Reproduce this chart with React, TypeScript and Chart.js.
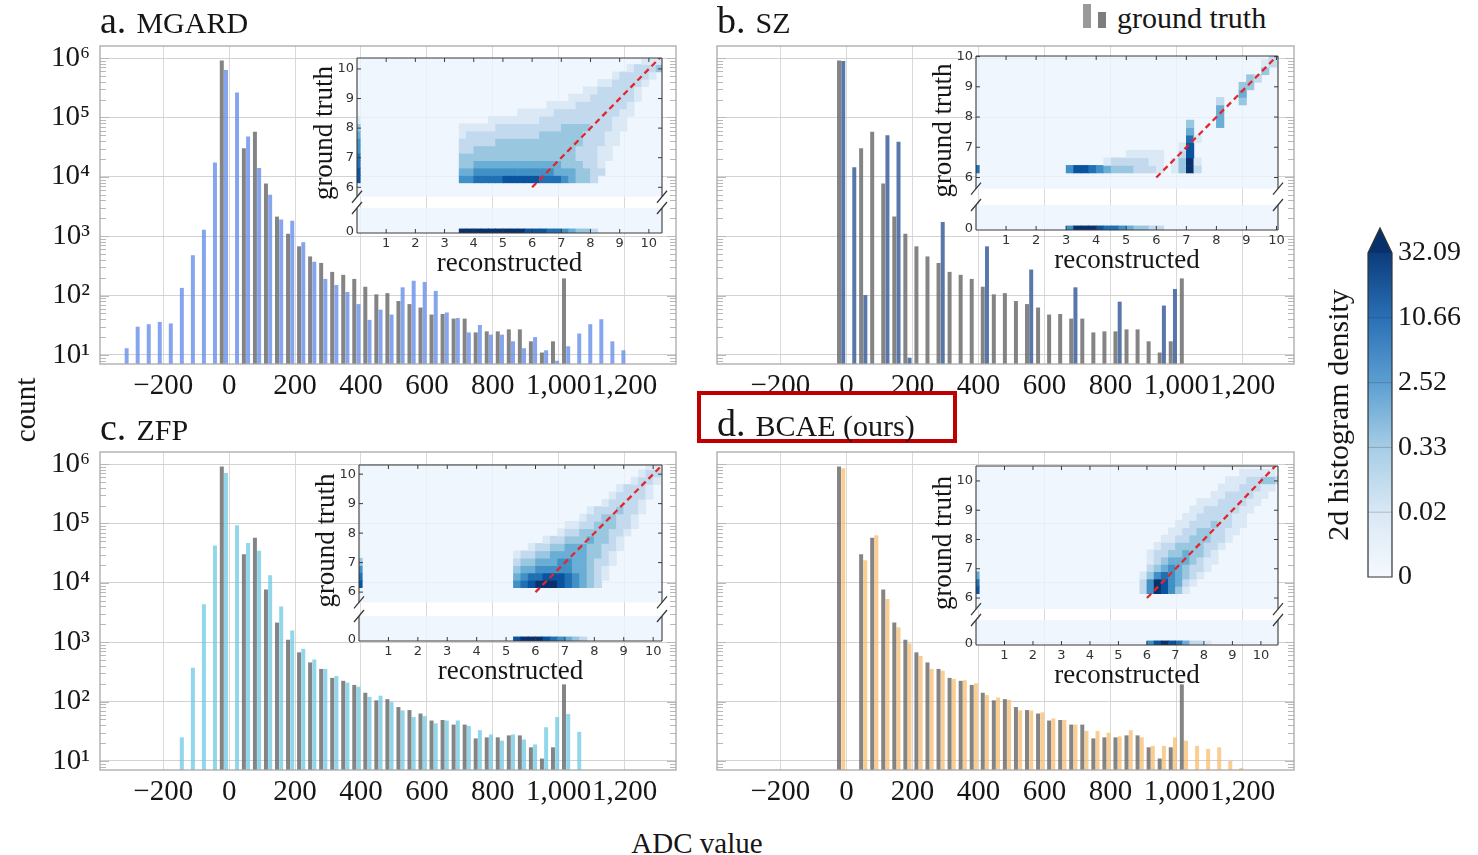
import React, { useEffect, useRef } from 'react';
import { Chart, registerables } from 'chart.js';

Chart.register(...registerables);

const SERIF = '"Liberation Serif", "DejaVu Serif", serif';
const SANS = '"DejaVu Sans", "Liberation Sans", sans-serif';
const INK = '#161616';

// ---------------- main histograms: counts per ADC bin ----------------
const BIN_CENTERS = [
  -317.5, -284, -250.5, -217, -183.5, -150, -116.5, -83, -49.5,
  -16, 17.5, 51, 84.5, 118, 151.5, 185, 218.5, 252, 285.5,
  319, 352.5, 386, 419.5, 453, 486.5, 520, 553.5, 587, 620.5,
  654, 687.5, 721, 754.5, 788, 821.5, 855, 888.5, 922, 955.5,
  989, 1022.5, 1056, 1089.5, 1123, 1156.5, 1190,
];

const GROUND_TRUTH = [
  null, null, null, null, null, null, null, null, null,
  912000, null, 30200, 57500, 7760, 2140, 1100, 676, 457, 355,
  251, 224, 191, 141, 105, 110, 81, 72, 63, 48,
  49, 41, 41, 24, 25, 25, 27, 27, 17, 11,
  17, 195, null, null, null, null, null,
];

const MGARD = [
  13, 30, 33, 36, 34, 135, 479, 1290, 17400,
  631000, 263000, 47900, 14100, 5010, 1910, 1820, 794, 372, 191,
  151, 115, 72, 39, 58, 48, 138, 178, 170, 120,
  52, 42, 24, 32, 22, 22, 17, 13, 20, 12,
  8, 14, 23, 33, 40, 17, 12,
];

const SZ = [
  null, null, null, null, null, null, null, null, null,
  891000, 14500, 102, null, 50100, 38900, 9, null, null, 1740,
  null, null, null, 676, null, null, null, 275, null, null,
  null, 138, null, null, null, 79, null, null, null, 68,
  129, null, null, null, null, null, null,
];

const ZFP = [
  null, null, null, null, null, 25, 372, 4370, 42700,
  708000, 93300, 46800, 34700, 13500, 3980, 1580, 776, 513, 355,
  269, 209, 178, 120, 126, 98, 71, 55, 57, 43,
  48, 48, 39, 33, 28, 22, 28, 23, 19, 37,
  55, 62, 31, null, null, null, null,
];

const BCAE = [
  null, null, null, null, null, null, null, null, null,
  851000, null, 24000, 63100, 5370, 1780, 955, 589, 355, 331,
  240, 229, 204, 129, 117, 107, 71, 71, 66, 52,
  49, 41, 32, 32, 30, 26, 33, 25, 18, 18,
  25, 22, 18, 16, 17, 10, 7.6,
];

const X_TICKS = [-200, 0, 200, 400, 600, 800, 1000, 1200];
const Y_TICKS = [10, 100, 1000, 10000, 100000, 1000000];
const Y_TICK_LABELS = ['10\u00b9', '10\u00b2', '10\u00b3', '10\u2074', '10\u2075', '10\u2076'];

// ---------------- insets: 2d histogram (reconstructed vs ground truth) ----------------
// bins: columns of width 0.25 starting at 0; upper rows of height 0.25 starting at 6.15
const CELL_W = 0.25;
const ROW_BASE = 6.15;
const ROW_H = 0.25;
const LOWER_BAND = [-0.05, 0.09];
const ZERO_X = 0.06;
const INSET_X_TICKS = [1, 2, 3, 4, 5, 6, 7, 8, 9, 10];
const INSET_UPPER_TICKS = [6, 7, 8, 9, 10];
const INSET_LOWER_TICKS = [0];
const DIAGONAL = [6, 10.6];

// [row, first column, density levels 1..8]
const MGARD_CELLS: [number, number, string][] = [
  [0, 14, '5566667777766654332'],
  [1, 14, '44555555555554443322'],
  [2, 14, '33444444444444333221'],
  [3, 14, '333333333333333322211'],
  [4, 14, '223333333333333322211'],
  [5, 14, '2222233333333333322211'],
  [6, 14, '1222222222233333322211'],
  [7, 14, '11111222222222333322211'],
  [8, 18, '1111111222222222211'],
  [9, 22, '1111122222222211'],
  [10, 26, '111122222221'],
  [11, 29, '1112222221'],
  [12, 31, '11222221'],
  [13, 33, '1122221'],
  [14, 35, '122221'],
  [15, 37, '12223'],
  [16, 39, '111'],
];
const MGARD_LOWER: [number, string] = [14, '8888888887776654332'];
const MGARD_ZERO = '776655431';

const SZ_CELLS: [number, number, string][] = [
  [0, 12, '5776543332221'], [0, 26, '1382'],
  [1, 17, '12222211'], [1, 26, '1381'],
  [2, 20, '11111'], [2, 27, '27'],
  [3, 27, '17'],
  [4, 28, '61'],
  [5, 28, '4'],
  [6, 28, '3'], [6, 32, '4'],
  [7, 32, '4'],
  [8, 32, '4'],
  [9, 32, '2'], [9, 35, '3'],
  [10, 35, '4'],
  [11, 35, '33'],
  [12, 36, '32'],
  [13, 38, '3'],
  [14, 38, '12'],
  [15, 39, '2'],
];
const SZ_LOWER: [number, string] = [12, '5888766543322'];
const SZ_ZERO = '6';

const ZFP_CELLS: [number, number, string][] = [
  [0, 21, '567888765432'],
  [1, 21, '4566777654321'],
  [2, 21, '3445555544321'],
  [3, 21, '23344455443221'],
  [4, 21, '12233444443321'],
  [5, 23, '1223344433221'],
  [6, 25, '12233343321'],
  [7, 27, '1223333221'],
  [8, 28, '1122333221'],
  [9, 30, '12233221'],
  [10, 31, '12223221'],
  [11, 33, '122221'],
  [12, 34, '122221'],
  [13, 35, '12221'],
  [14, 37, '1221'],
  [15, 38, '122'],
  [16, 39, '11'],
];
const ZFP_LOWER: [number, string] = [21, '7888765432'];
const ZFP_ZERO = '7653';

const BCAE_CELLS: [number, number, string][] = [
  [0, 23, '2587531'],
  [1, 23, '25875421'],
  [2, 23, '135654321'],
  [3, 24, '234543221'],
  [4, 24, '1234443211'],
  [5, 24, '1223343321'],
  [6, 25, '1223333221'],
  [7, 26, '1122333221'],
  [8, 27, '1122332211'],
  [9, 28, '1122232211'],
  [10, 29, '112222211'],
  [11, 30, '112222211'],
  [12, 31, '111222211'],
  [13, 33, '11222211'],
  [14, 34, '11122211'],
  [15, 35, '11122332'],
  [16, 37, '11111'],
];
const BCAE_LOWER: [number, string] = [24, '578764221'];
const BCAE_ZERO = '764';

// ---------------- colorbar ----------------
const CB_TICKS = [0, 1, 2, 3, 4, 5];
const CB_LABELS = ['0', '0.02', '0.33', '2.52', '10.66', '32.09'];

// ---------------- styles ----------------
const GT_COLOR = 'rgba(110,110,110,0.85)';
const LEVEL_COLORS = ['rgba(0,0,0,0)', '#dbe9f6', '#c2d9ee', '#9ac7e0', '#6aaed6', '#4191c6', '#2070b4', '#0a539e', '#08326e'];
const CB_STOPS: [number, string][] = [[0, '#f5f9fe'], [0.2, '#d9e8f5'], [0.4, '#a6cde5'], [0.6, '#5b9fd1'], [0.8, '#2a70b6'], [1, '#0b3c7c']];
const INSET_BG = 'rgba(236,244,252,0.82)';
const MAIN_H = 370;
const LOWER_PX = 25;

const MAIN_PANELS = [
  { id: 'a', label: 'MGARD', values: MGARD, color: 'rgba(100,140,235,0.78)', left: 40, top: 40, width: 645, showY: true },
  { id: 'b', label: 'SZ', values: SZ, color: 'rgba(60,95,155,0.85)', left: 657, top: 40, width: 646, showY: false },
  { id: 'c', label: 'ZFP', values: ZFP, color: 'rgba(110,200,228,0.75)', left: 40, top: 446, width: 645, showY: true },
  { id: 'd', label: 'BCAE (ours)', values: BCAE, color: 'rgba(248,185,100,0.7)', left: 657, top: 446, width: 646, showY: false },
];

const INSETS = [
  { id: 'a', L: 357, T: 58, R: 662, B: 233, xMax: 10.45, yuMin: 5.3, yuMax: 10.37, gapAt: 5.68, cells: MGARD_CELLS, lower: MGARD_LOWER, zero: MGARD_ZERO },
  { id: 'b', L: 976, T: 56, R: 1278, B: 230, xMax: 10.05, yuMin: 5.09, yuMax: 10.02, gapAt: 5.63, cells: SZ_CELLS, lower: SZ_LOWER, zero: SZ_ZERO },
  { id: 'c', L: 359, T: 465, R: 662, B: 641, xMax: 10.3, yuMin: 5.19, yuMax: 10.31, gapAt: 5.65, cells: ZFP_CELLS, lower: ZFP_LOWER, zero: ZFP_ZERO },
  { id: 'd', L: 976, T: 466, R: 1278, B: 645, xMax: 10.6, yuMin: 5.25, yuMax: 10.51, gapAt: 5.62, cells: BCAE_CELLS, lower: BCAE_LOWER, zero: BCAE_ZERO },
];

function fmtX(v: number) {
  const s = Math.abs(v).toLocaleString('en-US');
  return v < 0 ? '\u2212' + s : s;
}

function noPad(s: any) {
  s.paddingTop = 0;
  s.paddingBottom = 0;
  s.paddingLeft = 0;
  s.paddingRight = 0;
}

const mainDecor = {
  id: 'mainDecor',
  afterDraw(chart: any) {
    const { ctx, chartArea: ca, scales } = chart;
    const y = scales.y;
    ctx.save();
    ctx.strokeStyle = '#b8b8b8';
    ctx.lineWidth = 1;
    for (let e = 0; e <= 6; e++) {
      for (let m = 1; m <= 9; m++) {
        const v = m * Math.pow(10, e);
        if (v < y.min || v > y.max) continue;
        const py = Math.round(y.getPixelForValue(v)) + 0.5;
        const len = m === 1 ? 9 : 6;
        ctx.beginPath();
        ctx.moveTo(ca.left, py); ctx.lineTo(ca.left + len, py);
        ctx.moveTo(ca.right, py); ctx.lineTo(ca.right - len, py);
        ctx.stroke();
      }
    }
    ctx.strokeStyle = '#a9a9a9';
    ctx.lineWidth = 1.3;
    ctx.strokeRect(ca.left, ca.top, ca.right - ca.left, ca.bottom - ca.top);
    ctx.restore();
  },
};

function makeMainConfig(p: any) {
  const gt = BIN_CENTERS.map((x, i) => ({ x, y: GROUND_TRUTH[i] }));
  const cmp = BIN_CENTERS.map((x, i) => ({ x, y: p.values[i] }));
  const bar = { barPercentage: 0.95, categoryPercentage: 0.76, borderWidth: 0 };
  return {
    type: 'bar',
    data: {
      datasets: [
        { label: 'ground truth', data: gt, backgroundColor: GT_COLOR, ...bar },
        { label: p.label, data: cmp, backgroundColor: p.color, ...bar },
      ],
    },
    options: {
      animation: false,
      responsive: false,
      devicePixelRatio: 1,
      events: [],
      layout: { padding: { top: 6, right: 9, left: 0, bottom: 0 } },
      plugins: { legend: { display: false }, tooltip: { enabled: false } },
      scales: {
        x: {
          type: 'linear', min: -392, max: 1356, offset: false,
          afterBuildTicks: (s: any) => { s.ticks = X_TICKS.map((v) => ({ value: v })); },
          ticks: { autoSkip: false, maxRotation: 0, minRotation: 0, padding: 5, color: INK, font: { family: SERIF, size: 29 }, callback: (v: any) => fmtX(Number(v)) },
          grid: { color: '#d9d9d9', drawTicks: false, offset: false },
          border: { display: false },
          afterFit: (s: any) => { s.height = 46; noPad(s); },
        },
        y: {
          type: 'logarithmic', min: 7.05, max: 1.6e6, beginAtZero: false,
          afterBuildTicks: (s: any) => { s.ticks = Y_TICKS.map((v) => ({ value: v })); },
          ticks: { display: p.showY, padding: 10, color: INK, font: { family: SERIF, size: 29 }, callback: (v: any) => { const i = Y_TICKS.indexOf(Number(v)); return i >= 0 ? Y_TICK_LABELS[i] : ''; } },
          grid: { color: '#d2d2d2', drawTicks: false },
          border: { display: false },
          afterFit: (s: any) => { s.width = 60; noPad(s); },
        },
      },
    },
    plugins: [mainDecor],
  };
}

const insetDecor = {
  id: 'insetDecor',
  beforeDatasetsDraw(chart: any, _a: any, opts: any) {
    const { ctx, chartArea: ca, scales } = chart;
    const gapY = scales.yu.getPixelForValue(opts.gapAt);
    ctx.save();
    ctx.fillStyle = INSET_BG;
    ctx.fillRect(ca.left, ca.top, ca.right - ca.left, gapY - ca.top);
    ctx.fillRect(ca.left, scales.yl.top, ca.right - ca.left, scales.yl.bottom - scales.yl.top);
    ctx.restore();
  },
  afterDraw(chart: any, _a: any, opts: any) {
    const { ctx, chartArea: ca, scales } = chart;
    const gapY = scales.yu.getPixelForValue(opts.gapAt);
    const lowTop = scales.yl.top;
    ctx.save();
    ctx.strokeStyle = '#3a3a3a';
    ctx.lineWidth = 1.1;
    ctx.beginPath();
    ctx.moveTo(ca.left, ca.top); ctx.lineTo(ca.right, ca.top);
    ctx.moveTo(ca.left, ca.bottom); ctx.lineTo(ca.right, ca.bottom);
    ctx.moveTo(ca.left, ca.top); ctx.lineTo(ca.left, gapY);
    ctx.moveTo(ca.right, ca.top); ctx.lineTo(ca.right, gapY);
    ctx.moveTo(ca.left, lowTop); ctx.lineTo(ca.left, ca.bottom);
    ctx.moveTo(ca.right, lowTop); ctx.lineTo(ca.right, ca.bottom);
    ctx.stroke();
    // break marks
    ctx.lineWidth = 1.3;
    ctx.beginPath();
    for (const x of [ca.left, ca.right]) {
      for (const y of [gapY, lowTop]) {
        ctx.moveTo(x - 5, y + 6); ctx.lineTo(x + 5, y - 6);
      }
    }
    ctx.stroke();
    // inner ticks
    ctx.lineWidth = 1;
    ctx.beginPath();
    for (const v of INSET_X_TICKS) {
      if (v > scales.x.max) continue;
      const px = scales.x.getPixelForValue(v);
      ctx.moveTo(px, ca.bottom); ctx.lineTo(px, ca.bottom - 4);
      ctx.moveTo(px, ca.top); ctx.lineTo(px, ca.top + 4);
    }
    for (const v of INSET_UPPER_TICKS) {
      const py = scales.yu.getPixelForValue(v);
      ctx.moveTo(ca.left, py); ctx.lineTo(ca.left + 4, py);
      ctx.moveTo(ca.right, py); ctx.lineTo(ca.right - 4, py);
    }
    ctx.stroke();
    ctx.restore();
  },
};

function makeInsetConfig(s: any) {
  const levelColor = (c: any) => LEVEL_COLORS[(c.raw && c.raw.v) || 0];
  const upper = s.cells.flatMap(([r, c0, lv]: [number, number, string]) =>
    lv.split('').map((ch, i) => ({ x: (c0 + i + 0.5) * CELL_W, y: [ROW_BASE + r * ROW_H, ROW_BASE + (r + 1) * ROW_H], v: Number(ch) })),
  ).filter((d: any) => d.v > 0);
  const lower = s.lower[1].split('').map((ch: string, i: number) => ({ x: (s.lower[0] + i + 0.5) * CELL_W, y: LOWER_BAND, v: Number(ch) })).filter((d: any) => d.v > 0);
  const zero = s.zero.split('').map((ch: string, r: number) => ({ x: ZERO_X, y: [ROW_BASE + r * ROW_H, ROW_BASE + (r + 1) * ROW_H], v: Number(ch) })).filter((d: any) => d.v > 0);
  const upperWeight = (s.B - s.T) - LOWER_PX;
  const yTicks = { padding: 3, color: '#333', font: { family: SANS, size: 13 } };
  return {
    type: 'bar',
    data: {
      datasets: [
        { type: 'line', data: DIAGONAL.map((v) => ({ x: v, y: v })), xAxisID: 'x', yAxisID: 'yu', borderColor: '#e2262b', borderWidth: 2.3, borderDash: [6, 4], pointRadius: 0, fill: false, order: 0 },
        { data: zero, xAxisID: 'x0', yAxisID: 'yu', backgroundColor: levelColor, barThickness: 3, grouped: false, borderWidth: 0, order: 1 },
        { data: upper, xAxisID: 'x', yAxisID: 'yu', backgroundColor: levelColor, barPercentage: 1, categoryPercentage: 1, grouped: false, borderWidth: 0, order: 2 },
        { data: lower, xAxisID: 'x', yAxisID: 'yl', backgroundColor: levelColor, barPercentage: 1, categoryPercentage: 1, grouped: false, borderWidth: 0, order: 2 },
      ],
    },
    options: {
      animation: false,
      responsive: false,
      devicePixelRatio: 1,
      events: [],
      layout: { padding: { top: 8, right: 10, left: 0, bottom: 0 } },
      plugins: { legend: { display: false }, tooltip: { enabled: false }, insetDecor: { gapAt: s.gapAt } },
      scales: {
        x: {
          type: 'linear', position: 'bottom', min: 0, max: s.xMax, offset: false,
          afterBuildTicks: (sc: any) => { sc.ticks = INSET_X_TICKS.filter((v) => v <= s.xMax).map((v) => ({ value: v })); },
          ticks: { autoSkip: false, maxRotation: 0, padding: 3, color: '#333', font: { family: SANS, size: 13 } },
          grid: { display: false, offset: false, drawTicks: false },
          border: { display: false },
          title: { display: true, text: 'reconstructed', color: INK, font: { family: SERIF, size: 27 }, padding: { top: 0, bottom: 2 } },
          afterFit: (sc: any) => { sc.height = 49; noPad(sc); },
        },
        x0: { type: 'linear', display: false, min: 0, max: s.xMax, offset: false, grid: { offset: false } },
        yu: {
          type: 'linear', position: 'left', stack: 'inset', stackWeight: upperWeight, weight: 2,
          min: s.yuMin, max: s.yuMax,
          afterBuildTicks: (sc: any) => { sc.ticks = INSET_UPPER_TICKS.map((v) => ({ value: v })); },
          ticks: yTicks,
          grid: { display: false, drawTicks: false },
          border: { display: false },
          title: { display: true, text: 'ground truth', color: INK, font: { family: SERIF, size: 27 }, padding: { top: 2, bottom: 0 } },
          afterFit: (sc: any) => { sc.width = 50; noPad(sc); },
        },
        yl: {
          type: 'linear', position: 'left', stack: 'inset', stackWeight: LOWER_PX, weight: 1,
          min: -0.05, max: 0.8,
          afterBuildTicks: (sc: any) => { sc.ticks = INSET_LOWER_TICKS.map((v) => ({ value: v })); },
          ticks: yTicks,
          grid: { display: false, drawTicks: false },
          border: { display: false },
          afterFit: (sc: any) => { sc.width = 50; noPad(sc); },
        },
      },
    },
    plugins: [insetDecor],
  };
}

const cbDecor = {
  id: 'cbDecor',
  afterDatasetsDraw(chart: any) {
    const { ctx, chartArea: ca, scales } = chart;
    const y = scales.y;
    const topY = y.getPixelForValue(CB_TICKS[CB_TICKS.length - 1]);
    const botY = y.getPixelForValue(CB_TICKS[0]);
    const mid = (ca.left + ca.right) / 2;
    const tip = topY - 25;
    ctx.save();
    ctx.fillStyle = '#08306b';
    ctx.beginPath();
    ctx.moveTo(ca.left, topY); ctx.lineTo(mid, tip); ctx.lineTo(ca.right, topY); ctx.closePath();
    ctx.fill();
    ctx.strokeStyle = 'rgba(30,30,30,0.22)';
    ctx.lineWidth = 1;
    ctx.beginPath();
    for (const v of CB_TICKS.slice(1, -1)) {
      const py = y.getPixelForValue(v);
      ctx.moveTo(ca.left, py); ctx.lineTo(ca.right, py);
    }
    ctx.stroke();
    ctx.strokeStyle = '#333';
    ctx.lineWidth = 1.2;
    ctx.beginPath();
    ctx.moveTo(ca.left, botY); ctx.lineTo(ca.left, topY); ctx.lineTo(mid, tip); ctx.lineTo(ca.right, topY); ctx.lineTo(ca.right, botY); ctx.closePath();
    ctx.stroke();
    ctx.restore();
  },
};

function makeColorbarConfig() {
  return {
    type: 'bar',
    data: {
      labels: [''],
      datasets: [{
        data: [[CB_TICKS[0], CB_TICKS[CB_TICKS.length - 1]]],
        backgroundColor: (c: any) => {
          const ca = c.chart.chartArea;
          if (!ca) return '#6aaed6';
          const g = c.chart.ctx.createLinearGradient(0, ca.bottom, 0, ca.top);
          CB_STOPS.forEach(([p, col]) => g.addColorStop(p, col));
          return g;
        },
        barPercentage: 1, categoryPercentage: 1, borderWidth: 0,
      }],
    },
    options: {
      animation: false,
      responsive: false,
      devicePixelRatio: 1,
      events: [],
      layout: { padding: { left: 18, top: 38, bottom: 18, right: 0 } },
      plugins: { legend: { display: false }, tooltip: { enabled: false } },
      scales: {
        x: { display: false },
        y: {
          position: 'right', min: 0, max: 5,
          afterBuildTicks: (s: any) => { s.ticks = CB_TICKS.map((v) => ({ value: v })); },
          ticks: { padding: 6, color: INK, font: { family: SERIF, size: 28 }, callback: (v: any) => { const i = CB_TICKS.indexOf(Number(v)); return i >= 0 ? CB_LABELS[i] : ''; } },
          grid: { display: false, drawTicks: false },
          border: { display: false },
          afterFit: (s: any) => { s.width = 86; noPad(s); },
        },
        yt: {
          position: 'left', min: 0, max: 5,
          ticks: { display: false },
          grid: { display: false, drawTicks: false },
          border: { display: false },
          title: { display: true, text: '2d histogram density', color: INK, font: { family: SERIF, size: 30 } },
          afterFit: (s: any) => { s.width = 50; noPad(s); },
        },
      },
    },
    plugins: [cbDecor],
  };
}

function ChartCanvas({ left, top, width, height, make }: any) {
  const ref = useRef<HTMLCanvasElement | null>(null);
  useEffect(() => {
    if (!ref.current) return;
    const chart = new Chart(ref.current, make());
    return () => chart.destroy();
  }, []);
  return <canvas ref={ref} width={width} height={height} style={{ position: 'absolute', left, top, width, height }} />;
}

function PanelTitle({ left, top, letter, name }: any) {
  return (
    <div style={{ position: 'absolute', left, top, fontFamily: SERIF, color: INK, whiteSpace: 'nowrap', lineHeight: '40px' }}>
      <span style={{ fontSize: 38 }}>{letter}</span>
      <span style={{ fontSize: 30, marginLeft: 10 }}>{name}</span>
    </div>
  );
}

export default function App() {
  return (
    <div style={{ position: 'fixed', left: 0, top: 0, width: 1478, height: 855, background: '#fff', overflow: 'hidden' }}>
      {MAIN_PANELS.map((p) => (
        <ChartCanvas key={p.id} left={p.left} top={p.top} width={p.width} height={MAIN_H} make={() => makeMainConfig(p)} />
      ))}
      {INSETS.map((s) => (
        <ChartCanvas key={'inset-' + s.id} left={s.L - 50} top={s.T - 8} width={s.R - s.L + 60} height={s.B - s.T + 57} make={() => makeInsetConfig(s)} />
      ))}
      <ChartCanvas left={1300} top={215} width={178} height={380} make={makeColorbarConfig} />

      <PanelTitle left={100} top={0} letter="a." name="MGARD" />
      <PanelTitle left={717} top={0} letter="b." name="SZ" />
      <PanelTitle left={100} top={407} letter="c." name="ZFP" />
      <div style={{ position: 'absolute', left: 697, top: 391, width: 260, height: 52, boxSizing: 'border-box', border: '4px solid #c00000', background: '#fff' }} />
      <PanelTitle left={717} top={403} letter="d." name="BCAE (ours)" />

      <div style={{ position: 'absolute', left: 1083, top: 4, width: 8, height: 24, background: '#9a9a9a' }} />
      <div style={{ position: 'absolute', left: 1098, top: 12, width: 8, height: 16, background: '#7d7d7d' }} />
      <div style={{ position: 'absolute', left: 1117, top: -2, fontFamily: SERIF, fontSize: 30, lineHeight: '40px', color: INK, whiteSpace: 'nowrap' }}>ground truth</div>

      <div style={{ position: 'absolute', left: 25, top: 410, transform: 'translate(-50%, -50%) rotate(-90deg)', fontFamily: SERIF, fontSize: 29, color: INK, whiteSpace: 'nowrap' }}>count</div>
      <div style={{ position: 'absolute', left: 697, top: 843, transform: 'translate(-50%, -50%)', fontFamily: SERIF, fontSize: 29, color: INK, whiteSpace: 'nowrap' }}>ADC value</div>
    </div>
  );
}
